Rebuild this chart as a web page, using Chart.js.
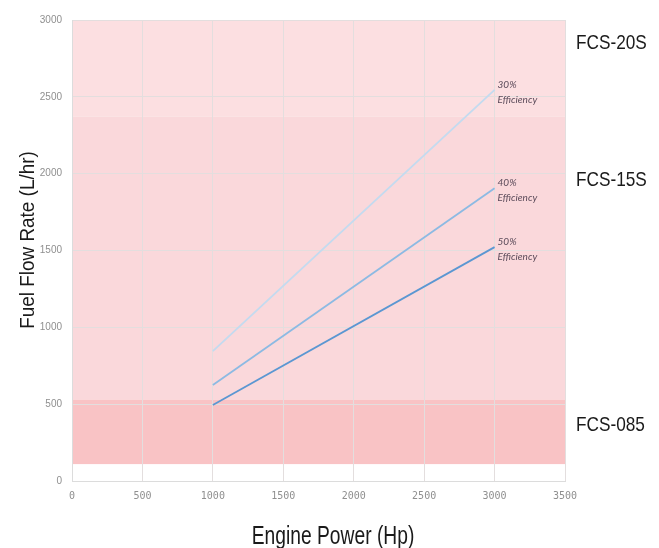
<!DOCTYPE html>
<html>
<head>
<meta charset="utf-8">
<script src="https://cdn.jsdelivr.net/npm/chart.js@4.4.1/dist/chart.umd.min.js"></script>
<style>
  html, body { margin: 0; padding: 0; background: #ffffff; }
  #wrap { width: 659px; height: 548px; position: relative; }
</style>
</head>
<body>
<div id="wrap"><canvas id="fuel_chart"></canvas></div>
<script>
// engine power points (Hp) where each efficiency line starts and ends
var power_points = [1000, 3000];

// fuel flow (L/hr)
var eff30_flow = [845, 2545];
var eff40_flow = [625, 1905];
var eff50_flow = [495, 1522];

var line_names = ["30%", "40%", "50%"];

// filter bands: [name, low, high] in L/hr
var band_names = ["FCS-20S", "FCS-15S", "FCS-085"];
var band_low = [2370, 530, 110];
var band_high = [3000, 2370, 530];
var band_colors = ["#fcdfe1", "#fad8db", "#f9c3c5"];

var x_ticks = [0, 500, 1000, 1500, 2000, 2500, 3000, 3500];
var y_ticks = [0, 500, 1000, 1500, 2000, 2500, 3000];

// where the band name sits (value on y scale)
var band_label_at = [2850, 1960, 365];

function toPoints(xs, ys) {
  var pts = [];
  for (var i = 0; i < xs.length; i++) {
    pts.push({x: xs[i], y: ys[i]});
  }
  return pts;
}

var bandsPlugin = {
  id: 'bands',
  beforeDraw: function(chart) {
    var ctx = chart.ctx;
    var xs = chart.scales.x, ys = chart.scales.y;
    var area = chart.chartArea;
    ctx.save();
    for (var i = 0; i < band_names.length; i++) {
      var top = ys.getPixelForValue(band_high[i]);
      var bot = ys.getPixelForValue(band_low[i]);
      ctx.fillStyle = band_colors[i];
      ctx.fillRect(area.left, top, area.right - area.left, bot - top);
    }
    ctx.restore();
  },
  afterDraw: function(chart) {
    var ctx = chart.ctx;
    var xs = chart.scales.x, ys = chart.scales.y;
    ctx.save();

    // band names on the right
    ctx.fillStyle = "#1a1a1a";
    ctx.font = "21px 'Liberation Sans', Arial, sans-serif";
    ctx.textBaseline = "middle";
    ctx.textAlign = "left";
    for (var i = 0; i < band_names.length; i++) {
      var y = ys.getPixelForValue(band_label_at[i]);
      ctx.save();
      ctx.translate(576, y);
      ctx.scale(0.82, 1);
      ctx.fillText(band_names[i], 0, 0);
      ctx.restore();
    }

    // efficiency labels at the end of each line
    ctx.fillStyle = "#5b4b5a";
    ctx.font = "italic 10px Lato, 'Open Sans', sans-serif";
    var ends = [eff30_flow, eff40_flow, eff50_flow];
    for (var j = 0; j < ends.length; j++) {
      var px = xs.getPixelForValue(power_points[1]) + 3;
      var py = ys.getPixelForValue(ends[j][1]);
      ctx.fillText(line_names[j], px, py - 5);
      ctx.fillText("Efficiency", px, py + 10);
    }

    // axis titles
    ctx.fillStyle = "#1a1a1a";
    ctx.textAlign = "center";
    ctx.font = "25px 'Liberation Sans', Arial, sans-serif";
    ctx.save();
    ctx.translate(333, 537);
    ctx.scale(0.77, 1);
    ctx.fillText("Engine Power (Hp)", 0, 0);
    ctx.restore();

    ctx.font = "21px 'Liberation Sans', Arial, sans-serif";
    ctx.save();
    ctx.translate(28, 240);
    ctx.rotate(-Math.PI / 2);
    ctx.scale(0.9, 1);
    ctx.fillText("Fuel Flow Rate (L/hr)", 0, 0);
    ctx.restore();

    ctx.restore();
  }
};

function plainTick(value) {
  return String(value);
}

var ctx = document.getElementById("fuel_chart");
var fuel_chart = new Chart(ctx, {
  type: 'line',
  data: {
    datasets: [
      {
        label: "30% Efficiency",
        data: toPoints(power_points, eff30_flow),
        borderColor: "#c3dbf0",
        borderWidth: 1.8,
        pointRadius: 0,
        fill: false
      },
      {
        label: "40% Efficiency",
        data: toPoints(power_points, eff40_flow),
        borderColor: "#8cbae3",
        borderWidth: 1.8,
        pointRadius: 0,
        fill: false
      },
      {
        label: "50% Efficiency",
        data: toPoints(power_points, eff50_flow),
        borderColor: "#5b97d2",
        borderWidth: 1.8,
        pointRadius: 0,
        fill: false
      }
    ]
  },
  options: {
    responsive: true,
    maintainAspectRatio: false,
    animation: false,
    layout: { padding: { left: 0, right: 94, top: 20, bottom: 0 } },
    plugins: {
      legend: { display: false },
      tooltip: { enabled: false }
    },
    scales: {
      x: {
        type: 'linear',
        min: 0,
        max: 3500,
        afterBuildTicks: function(axis) {
          axis.ticks = x_ticks.map(function(v) { return {value: v}; });
        },
        afterFit: function(axis) { axis.height = 67; },
        grid: { color: "#e3dede", drawTicks: false },
        border: { color: "#dcdcdc" },
        ticks: {
          color: "#8f8f8f",
          padding: 9,
          maxRotation: 0,
          callback: plainTick,
          font: { size: 10, family: "'DejaVu Sans Mono', monospace" }
        },
        title: { display: false }
      },
      y: {
        type: 'linear',
        min: 0,
        max: 3000,
        afterBuildTicks: function(axis) {
          axis.ticks = y_ticks.map(function(v) { return {value: v}; });
        },
        afterFit: function(axis) { axis.width = 72; },
        grid: { color: "#e3dede", drawTicks: false },
        border: { color: "#dcdcdc" },
        ticks: {
          color: "#8f8f8f",
          padding: 10,
          callback: plainTick,
          font: { size: 10, family: "'Liberation Sans', sans-serif" }
        },
        title: { display: false }
      }
    }
  },
  plugins: [bandsPlugin]
});
</script>
</body>
</html>
